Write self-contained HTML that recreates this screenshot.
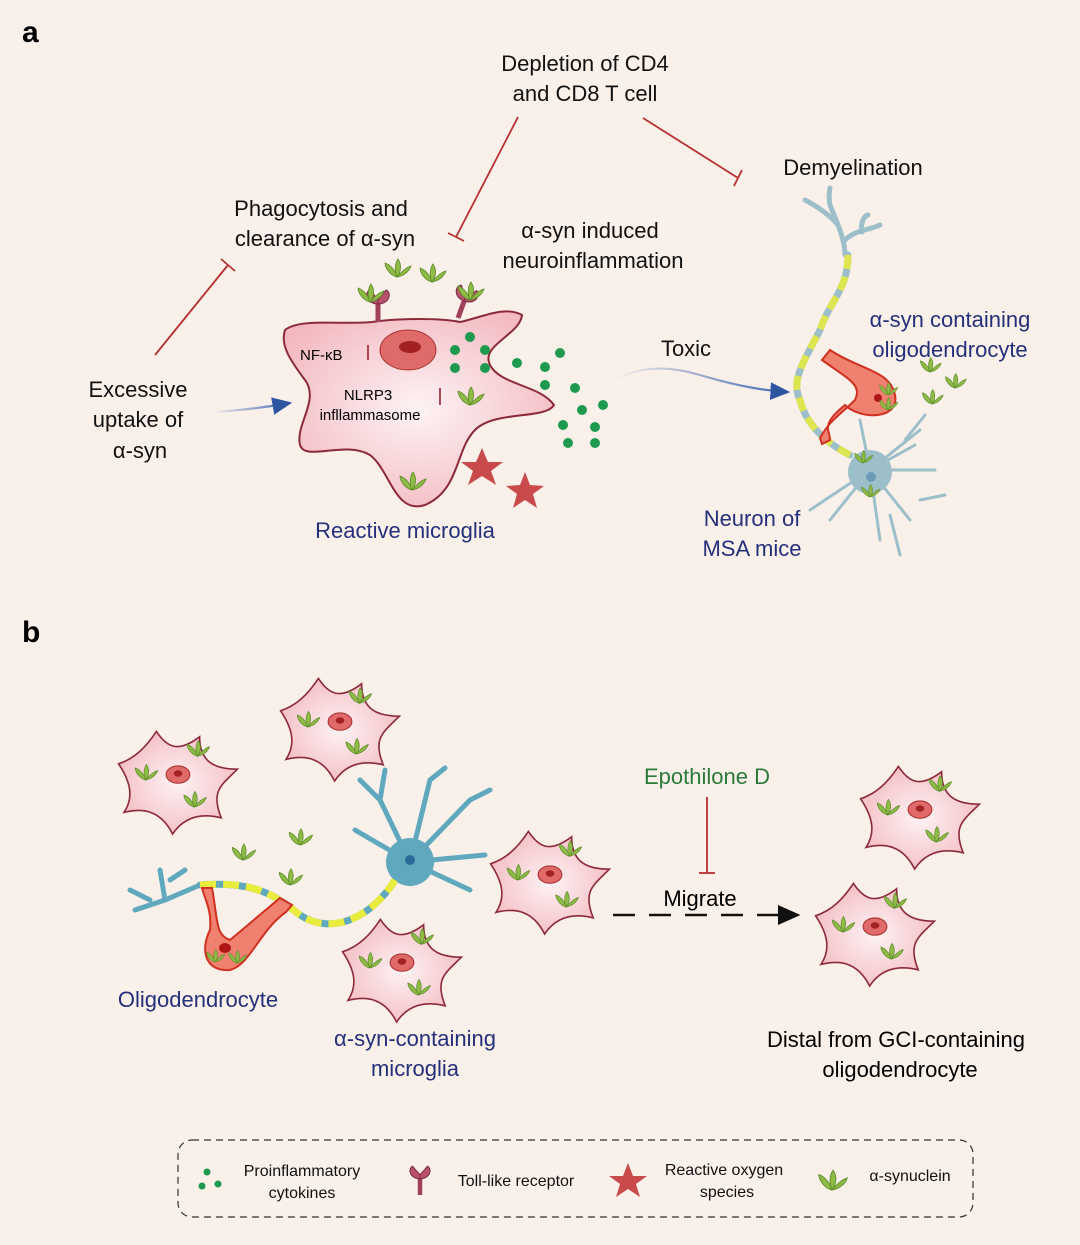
<!DOCTYPE html>
<html><head><meta charset="utf-8"><style>
html,body{margin:0;padding:0;background:#f9f0ea;}
svg{display:block;font-family:"Liberation Sans",sans-serif;}
</style></head><body>
<svg width="1080" height="1245" viewBox="0 0 1080 1245">
<defs>
<radialGradient id="mg" cx="50%" cy="50%" r="60%"><stop offset="0" stop-color="#fdf3f4"/><stop offset="1" stop-color="#f3b8bf"/></radialGradient>
<linearGradient id="blu" x1="0" x2="1"><stop offset="0" stop-color="#f9f0ea"/><stop offset="1" stop-color="#3b66b0"/></linearGradient>
<g id="leaf">
<path d="M0,0 C-8,-2 -12,-10 -12,-14 C-6,-12 -2,-6 0,0Z" fill="#8dbb45" stroke="#5d8a2a" stroke-width="0.8"/>
<path d="M0,0 C-3,-6 -2,-14 1,-18 C5,-12 4,-5 0,0Z" fill="#8dbb45" stroke="#5d8a2a" stroke-width="0.8"/>
<path d="M0,0 C5,-6 10,-10 14,-11 C12,-5 6,-1 0,0Z" fill="#8dbb45" stroke="#5d8a2a" stroke-width="0.8"/>
</g>
<g id="smg">
<path d="M-55,-15 C-40,-20 -30,-30 -20,-45 C-10,-30 0,-25 20,-40 C20,-20 30,-10 55,-10 C40,5 30,10 40,35 C20,30 5,35 -5,50 C-15,30 -30,25 -50,30 C-40,15 -45,0 -55,-15Z" fill="url(#mg)" stroke="#8d2a3a" stroke-width="1.5"/>
<ellipse cx="0" cy="-5" rx="11" ry="8" fill="#e06a6a" stroke="#a33" stroke-width="1"/>
<ellipse cx="0" cy="-6" rx="4" ry="3" fill="#a32222"/>
<use href="#leaf" transform="translate(-30,0) scale(0.8)"/>
<use href="#leaf" transform="translate(18,-22) scale(0.8)"/>
<use href="#leaf" transform="translate(15,25) scale(0.8)"/>
</g>
<g id="tlr">
<path d="M0,0 L0,-18" stroke="#a0405a" stroke-width="5"/>
<path d="M0,-18 C-12,-18 -14,-30 -8,-32 C-4,-26 0,-24 0,-22Z M0,-18 C12,-18 14,-30 8,-32 C4,-26 0,-24 0,-22Z" fill="#b8506a" stroke="#7a2a40"/>
</g>
<marker id="ah" markerWidth="10" markerHeight="10" refX="8" refY="5" orient="auto"><path d="M0,1 L9,5 L0,9 Z" fill="#2e55a0"/></marker>
<marker id="ahk" markerWidth="10" markerHeight="10" refX="8" refY="5" orient="auto"><path d="M0,1 L9,5 L0,9 Z" fill="#111"/></marker>
</defs>

<text x="22" y="42" font-size="30" font-weight="bold">a</text>
<text x="22" y="642" font-size="30" font-weight="bold">b</text>

<g font-size="22" fill="#111" text-anchor="middle">
<text x="585" y="71">Depletion of CD4</text>
<text x="585" y="101">and CD8 T cell</text>
<text x="853" y="175">Demyelination</text>
<text x="321" y="216">Phagocytosis and</text>
<text x="325" y="246">clearance of α-syn</text>
<text x="590" y="238">α-syn induced</text>
<text x="593" y="268">neuroinflammation</text>
<text x="138" y="397">Excessive</text>
<text x="138" y="427">uptake  of</text>
<text x="140" y="458">α-syn</text>
<text x="686" y="356">Toxic</text>
</g>
<g font-size="22" fill="#24307a" text-anchor="middle">
<text x="405" y="538">Reactive microglia</text>
<text x="950" y="327">α-syn containing</text>
<text x="950" y="357">oligodendrocyte</text>
<text x="752" y="526">Neuron of</text>
<text x="752" y="556">MSA mice</text>
<text x="198" y="1007">Oligodendrocyte</text>
<text x="415" y="1046">α-syn-containing</text>
<text x="415" y="1076">microglia</text>
</g>

<g stroke="#b83030" stroke-width="1.8" fill="none">
<line x1="155" y1="355" x2="228" y2="265"/><line x1="221" y1="259" x2="235" y2="271"/>
<line x1="518" y1="117" x2="456" y2="237"/><line x1="448" y1="233" x2="464" y2="241"/>
<line x1="643" y1="118" x2="738" y2="178"/><line x1="742" y1="170" x2="734" y2="186"/>
<line x1="707" y1="797" x2="707" y2="873"/><line x1="699" y1="873" x2="715" y2="873"/>
</g>
<path d="M212,412 Q250,410 290,403" stroke="url(#blu)" stroke-width="2.2" fill="none" marker-end="url(#ah)"/>
<path d="M615,380 Q650,360 700,375 T788,392" stroke="url(#blu)" stroke-width="2.2" fill="none" marker-end="url(#ah)"/>

<path d="M285,330 C300,318 340,325 372,322 C400,318 440,318 460,322 C480,318 505,305 522,315 C520,335 480,345 490,365 C500,385 540,385 554,405 C545,420 495,410 475,430 C455,450 460,490 425,505 C395,515 390,470 370,455 C345,440 305,462 300,445 C295,425 320,400 305,380 C290,360 280,345 285,330Z" fill="url(#mg)" stroke="#8d2a3a" stroke-width="2"/>
<ellipse cx="408" cy="350" rx="28" ry="20" fill="#df6a6a" stroke="#a33"/>
<ellipse cx="410" cy="347" rx="11" ry="6" fill="#a32020"/>
<use href="#tlr" transform="translate(378,322)"/>
<use href="#tlr" transform="translate(458,318) rotate(20)"/>
<use href="#leaf" transform="translate(370,302)"/>
<use href="#leaf" transform="translate(470,300)"/>
<use href="#leaf" transform="translate(397,277)"/>
<use href="#leaf" transform="translate(432,282)"/>
<use href="#leaf" transform="translate(470,405)"/>
<use href="#leaf" transform="translate(412,490)"/>
<text x="300" y="360" font-size="15">NF-κB</text>
<text x="368" y="400" font-size="15" text-anchor="middle">NLRP3</text>
<text x="370" y="420" font-size="15" text-anchor="middle">infllammasome</text>
<g stroke="#a02030" stroke-width="1.6"><line x1="368" y1="360" x2="368" y2="345"/><line x1="440" y1="405" x2="440" y2="388"/></g>
<g fill="#1d9a4e">
<circle cx="470" cy="337" r="5"/><circle cx="455" cy="350" r="5"/><circle cx="485" cy="350" r="5"/><circle cx="455" cy="368" r="5"/><circle cx="485" cy="368" r="5"/>
<circle cx="517" cy="363" r="5"/><circle cx="545" cy="367" r="5"/><circle cx="560" cy="353" r="5"/><circle cx="545" cy="385" r="5"/><circle cx="575" cy="388" r="5"/>
<circle cx="563" cy="425" r="5"/><circle cx="582" cy="410" r="5"/><circle cx="603" cy="405" r="5"/><circle cx="595" cy="427" r="5"/><circle cx="568" cy="443" r="5"/><circle cx="595" cy="443" r="5"/>
</g>
<g fill="#c94a4a"><polygon points="482,448 488,462 503,462 491,471 496,485 482,476 468,485 473,471 461,462 476,462"/>
<polygon points="525,472 530,485 544,486 533,494 537,508 525,500 513,508 517,494 506,486 520,485"/></g>

<g stroke="#9dbfc9" fill="none" stroke-linecap="round">
<path d="M845,255 C845,240 838,225 830,205 M838,225 C830,215 815,205 805,200 M830,205 C828,195 830,190 830,188 M845,240 C855,230 870,230 880,225 M862,232 C860,222 865,215 868,215" stroke-width="5"/>
<path d="M848,255 C848,290 830,300 820,330 C805,360 790,380 800,400 C805,420 820,440 850,455" stroke-width="7"/>
<path d="M870,470 L920,430 M870,470 L935,470 M870,470 L910,520 M870,470 L880,540 M870,470 L830,520 M870,470 L810,510 M870,470 L915,445 M870,470 L860,420 M905,440 L925,415 M920,500 L945,495 M890,515 L900,555" stroke-width="3"/>
</g>
<circle cx="870" cy="472" r="22" fill="#9dbfc9"/><circle cx="871" cy="477" r="5" fill="#6a9bb8"/>
<path d="M848,255 C848,290 830,300 820,330 C805,360 790,380 800,400 C805,420 820,440 850,455" stroke="#e9ec3c" stroke-width="7" fill="none" stroke-dasharray="14 8" opacity="0.85"/>
<path d="M822,360 L830,350 C860,370 890,370 895,395 C900,420 860,420 845,405 C820,425 830,430 830,440 L822,444 L820,438 C830,420 840,415 855,400 C862,385 850,380 822,360Z" fill="#f08070" stroke="#d03020" stroke-width="2"/>
<circle cx="878" cy="398" r="4" fill="#b01515"/>
<use href="#leaf" transform="translate(888,395) scale(0.7)"/><use href="#leaf" transform="translate(888,410) scale(0.7)"/>
<use href="#leaf" transform="translate(930,372) scale(0.8)"/><use href="#leaf" transform="translate(955,388) scale(0.8)"/><use href="#leaf" transform="translate(932,404) scale(0.8)"/>
<use href="#leaf" transform="translate(863,463) scale(0.7)"/><use href="#leaf" transform="translate(870,497) scale(0.7)"/>

<use href="#smg" transform="translate(178,780) scale(1.08)"/>
<use href="#smg" transform="translate(340,727) scale(1.08)"/>
<use href="#smg" transform="translate(550,880) scale(1.08)"/>
<use href="#smg" transform="translate(402,968) scale(1.08)"/>
<use href="#smg" transform="translate(920,815) scale(1.08)"/>
<use href="#smg" transform="translate(875,932) scale(1.08)"/>
<g stroke="#5fa8bd" fill="none" stroke-linecap="round">
<path d="M410,862 L380,800 M410,862 L355,830 M410,862 L470,800 M410,862 L485,855 M410,862 L470,890 M410,862 L430,780 M380,800 L360,780 M380,800 L385,770 M470,800 L490,790 M430,780 L445,768" stroke-width="5"/>
<path d="M135,910 L165,900 L200,885 M165,900 L160,870 M170,880 L185,870 M130,890 L150,900" stroke-width="5"/>
<path d="M200,885 C260,880 280,900 300,915 C330,935 370,920 395,880" stroke-width="7"/>
</g>
<circle cx="410" cy="862" r="24" fill="#5fa8bd"/><circle cx="410" cy="860" r="5" fill="#2a6a9a"/>
<path d="M200,885 C260,880 280,900 300,915 C330,935 370,920 395,880" stroke="#e9ec3c" stroke-width="7" fill="none" stroke-dasharray="16 7"/>
<path d="M202,888 L212,888 C218,920 215,935 230,940 L280,898 L292,905 L286,912 C260,930 250,965 230,970 C205,972 200,950 210,930 C212,910 205,900 202,888Z" fill="#f08070" stroke="#d03020" stroke-width="2"/>
<ellipse cx="225" cy="948" rx="6" ry="5" fill="#b01515"/>
<use href="#leaf" transform="translate(215,962) scale(0.7)"/><use href="#leaf" transform="translate(237,963) scale(0.7)"/>
<use href="#leaf" transform="translate(243,860) scale(0.9)"/><use href="#leaf" transform="translate(300,845) scale(0.9)"/><use href="#leaf" transform="translate(290,885) scale(0.9)"/>

<text x="707" y="784" font-size="22" fill="#2a7a3a" text-anchor="middle">Epothilone D</text>
<text x="700" y="906" font-size="22" text-anchor="middle">Migrate</text>
<line x1="613" y1="915" x2="798" y2="915" stroke="#111" stroke-width="2.5" stroke-dasharray="22 14" marker-end="url(#ahk)"/>
<text x="896" y="1047" font-size="22" text-anchor="middle">Distal from GCI-containing</text>
<text x="900" y="1077" font-size="22" text-anchor="middle">oligodendrocyte</text>

<rect x="178" y="1140" width="795" height="77" rx="14" fill="none" stroke="#333" stroke-width="1.2" stroke-dasharray="7 5"/>
<g fill="#1d9a4e"><circle cx="207" cy="1172" r="3.5"/><circle cx="202" cy="1186" r="3.5"/><circle cx="218" cy="1184" r="3.5"/></g>
<g font-size="16" fill="#111" text-anchor="middle">
<text x="302" y="1176">Proinflammatory</text><text x="302" y="1198">cytokines</text>
<text x="516" y="1186">Toll-like receptor</text>
<text x="724" y="1175">Reactive oxygen</text><text x="727" y="1197">species</text>
<text x="910" y="1181">α-synuclein</text>
</g>
<use href="#tlr" transform="translate(420,1195) scale(0.9)"/>
<polygon points="628,1163 633,1176 647,1176 636,1184 640,1197 628,1189 616,1197 620,1184 609,1176 623,1176" fill="#c94a4a"/>
<use href="#leaf" transform="translate(832,1190) scale(1.1)"/>
</svg>
</body></html>
